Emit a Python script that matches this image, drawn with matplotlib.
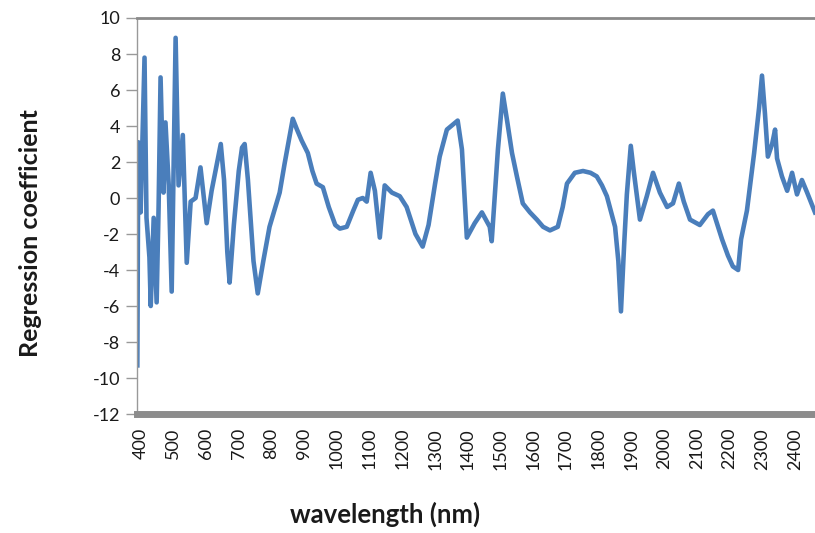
import matplotlib
matplotlib.use("Agg")
import matplotlib.pyplot as plt

# values
wavelength = [
    390, 393, 400, 412, 418, 427, 431, 440, 449, 455, 461, 470, 476, 486, 495,
    507, 516, 529, 541, 553, 568, 583, 602, 617, 632, 645, 655, 665, 672, 685,
    700, 710, 718, 728, 745, 758, 775, 794, 825, 840, 865, 878, 892, 911, 925,
    938, 957, 975, 995, 1009, 1030, 1050, 1064, 1079, 1091, 1103, 1116, 1131,
    1146, 1168, 1192, 1213, 1240, 1262, 1280, 1300, 1314, 1336, 1369, 1382,
    1397, 1421, 1443, 1467, 1473, 1492, 1507, 1520, 1535, 1550, 1568, 1590,
    1611, 1630, 1651, 1675, 1690, 1703, 1727, 1752, 1775, 1794, 1810, 1825,
    1850, 1860, 1868, 1878, 1886, 1898, 1907, 1917, 1926, 1947, 1966, 1987,
    2009, 2027, 2045, 2060, 2079, 2109, 2134, 2149, 2163, 2177, 2195, 2210,
    2226, 2235, 2253, 2275, 2290, 2299, 2308, 2317, 2330, 2339, 2345, 2360,
    2376, 2391, 2406, 2421, 2437, 2461,
]
coefficient = [
    -9.3, 3.1, -0.8, 7.8, -1.1, -3.3, -6.0, -1.1, -5.8, -0.5, 6.7, 0.3, 4.2, 0.7, -5.2,
    8.9, 0.7, 3.5, -3.6, -0.2, 0.0, 1.7, -1.4, 0.4, 1.8, 3.0, 1.0, -3.0, -4.7, -1.5,
    1.5, 2.8, 3.0, 1.0, -3.5, -5.3, -3.5, -1.6, 0.3, 1.9, 4.4, 3.8, 3.2, 2.5, 1.5,
    0.8, 0.6, -0.5, -1.5, -1.7, -1.6, -0.7, -0.1, 0.0, -0.2, 1.4, 0.4, -2.2,
    0.7, 0.3, 0.1, -0.5, -2.0, -2.7, -1.5, 0.8, 2.3, 3.8, 4.3, 2.7,
    -2.2, -1.4, -0.8, -1.6, -2.4, 2.7, 5.8, 4.3, 2.5, 1.2, -0.3, -0.8,
    -1.2, -1.6, -1.8, -1.6, -0.5, 0.8, 1.4, 1.5, 1.4, 1.2, 0.7, 0.1,
    -1.6, -3.5, -6.3, -2.5, 0.2, 2.9, 1.5, 0.1, -1.2, 0.1, 1.4, 0.3,
    -0.5, -0.3, 0.8, -0.2, -1.2, -1.5, -0.9, -0.7, -1.5, -2.3, -3.2, -3.8,
    -4.0, -2.3, -0.7, 2.5, 5.0, 6.8, 4.7, 2.3, 3.0, 3.8, 2.2, 1.2,
    0.4, 1.4, 0.2, 1.0, 0.3, -0.8,
]
x_ticks = list(range(400, 2401, 100))
y_ticks = list(range(-12, 11, 2))

plt.rcParams["font.family"] = ["Lato", "DejaVu Sans"]

fig = plt.figure(figsize=(8.15, 5.33), dpi=100)
ax = fig.add_axes([137 / 815, 1 - 414 / 533, 1 - 137 / 815, (414 - 18) / 533])

ax.plot(wavelength, coefficient, color="#4A7EBB", linewidth=3.3, solid_joinstyle="round")

ax.set_xlim(389, 2461)
ax.set_ylim(-12, 10)
ax.set_xticks(x_ticks)
ax.set_xticklabels([str(t) for t in x_ticks], rotation=90, fontsize=13, color="#1a1a1a")
ax.set_yticks(y_ticks)
ax.set_yticklabels([str(t) for t in y_ticks], fontsize=13, color="#1a1a1a")

ax.tick_params(axis="x", length=0, pad=10)
ax.tick_params(axis="y", length=8, width=1, color="#999999", direction="out", pad=4)

ax.spines["right"].set_visible(False)
ax.spines["left"].set_color("#999999")
ax.spines["left"].set_linewidth(1.0)
ax.spines["top"].set_color("#8a8a8a")
ax.spines["top"].set_linewidth(2.0)
ax.spines["bottom"].set_color("#8c8c8c")
ax.spines["bottom"].set_linewidth(5.0)

fig.text(30 / 815, 1 - 233 / 533, "Regression coefficient", rotation=90,
         ha="center", va="center", fontsize=18, fontweight="bold", color="#1a1a1a")
fig.text(385 / 815, 1 - 514 / 533, "wavelength (nm)", ha="center", va="center",
         fontsize=18.5, fontweight="bold", color="#1a1a1a")

fig.savefig("out.png", dpi=100)
